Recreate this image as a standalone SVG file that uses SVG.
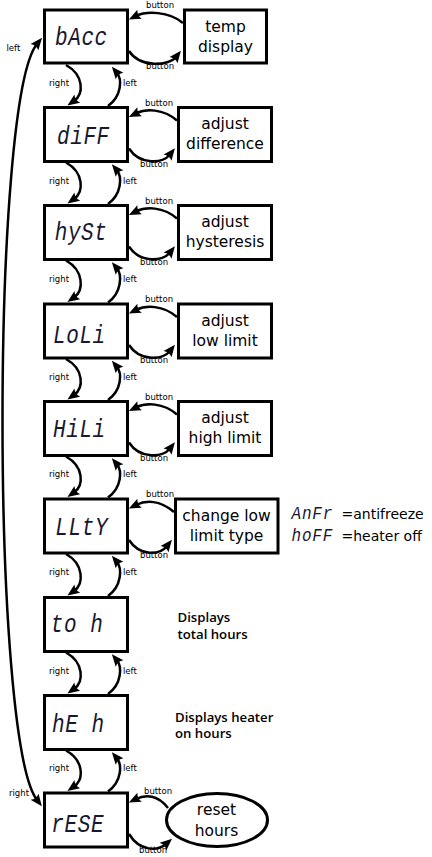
<svg xmlns="http://www.w3.org/2000/svg" width="432" height="857" viewBox="0 0 432 857">
<style>
.box{fill:#fff;stroke:#000;stroke-width:3}
.lbl{font-family:"DejaVu Sans","Liberation Sans",sans-serif;font-size:15.5px;fill:#000;text-anchor:middle}
.seg{font-family:"Liberation Mono","DejaVu Sans Mono",monospace;font-style:italic;font-size:21px;fill:#181830;letter-spacing:0.6px}
.seg2{font-family:"Liberation Mono","DejaVu Sans Mono",monospace;font-style:italic;font-size:16px;fill:#181830;letter-spacing:0.8px}
.sm{font-family:"DejaVu Sans","Liberation Sans",sans-serif;font-size:8.5px;fill:#000}
.note{font-family:"Open Sans","DejaVu Sans",sans-serif;font-size:13.2px;font-weight:600;fill:#000}
.leg{font-family:"DejaVu Sans","Liberation Sans",sans-serif;font-size:14px;fill:#000}
.c{fill:none;stroke:#000;stroke-width:2.5;marker-end:url(#ah)}
</style>
<defs>
<marker id="ah" viewBox="-5 -6 14 12" refX="0" refY="0" markerWidth="14" markerHeight="12" markerUnits="userSpaceOnUse" orient="auto-start-reverse">
<path d="M8,0 L-4,-5 Q-1,0 -4,5 Z" fill="#000"/>
</marker>
</defs>
<rect width="432" height="857" fill="#fff"/>

<g id="connectors">
<path class="c" style="marker-start:url(#ah)" d="M37,800 C-9,740 -9,100 37,44"/>
<path class="c" d="M183,23 C169,11 146,11 136,16"/>
<path class="c" d="M129,51 C140,68 169,66 176,57"/>
<path class="c" d="M177,120.5 C163,108.5 146,108.5 136,113.5"/>
<path class="c" d="M129,148.5 C140,165.5 163,163.5 170,154.5"/>
<path class="c" d="M177,218.5 C163,206.5 146,206.5 136,211.5"/>
<path class="c" d="M129,246.5 C140,263.5 163,261.5 170,252.5"/>
<path class="c" d="M177,317 C163,305 146,305 136,310"/>
<path class="c" d="M129,345 C140,362 163,360 170,351"/>
<path class="c" d="M177,414.5 C163,402.5 146,402.5 136,407.5"/>
<path class="c" d="M129,442.5 C140,459.5 163,457.5 170,448.5"/>
<path class="c" d="M174,512 C160,500 146,500 136,505"/>
<path class="c" d="M129,540 C140,557 160,555 167,546"/>
<path class="c" d="M168,808 C158,795 146,794 136,799"/>
<path class="c" d="M129,834 C140,852 158,851 166,844"/>
<path class="c" d="M66,65 C84,75 84,94 74,101"/>
<path class="c" d="M108,106 C122,96 122,79 117,73"/>
<path class="c" d="M66,162.5 C84,172.5 84,192 74,199"/>
<path class="c" d="M108,204 C122,194 122,176.5 117,170.5"/>
<path class="c" d="M66,260.5 C84,270.5 84,290.5 74,297.5"/>
<path class="c" d="M108,302.5 C122,292.5 122,274.5 117,268.5"/>
<path class="c" d="M66,359 C84,369 84,388 74,395"/>
<path class="c" d="M108,400 C122,390 122,373 117,367"/>
<path class="c" d="M66,456.5 C84,466.5 84,485.5 74,492.5"/>
<path class="c" d="M108,497.5 C122,487.5 122,470.5 117,464.5"/>
<path class="c" d="M66,554 C84,564 84,584 74,591"/>
<path class="c" d="M108,596 C122,586 122,568 117,562"/>
<path class="c" d="M66,652.5 C84,662.5 84,682 74,689"/>
<path class="c" d="M108,694 C122,684 122,666.5 117,660.5"/>
<path class="c" d="M66,750.5 C84,760.5 84,779.5 74,786.5"/>
<path class="c" d="M108,791.5 C122,781.5 122,764.5 117,758.5"/>
<text class="sm" x="6.5" y="50.5">left</text>
<text class="sm" x="9" y="796">right</text>
<text class="sm" x="146" y="8">button</text>
<text class="sm" x="146" y="69">button</text>
<text class="sm" x="145" y="105.5">button</text>
<text class="sm" x="140" y="166.5">button</text>
<text class="sm" x="145" y="203.5">button</text>
<text class="sm" x="140" y="264.5">button</text>
<text class="sm" x="145" y="302">button</text>
<text class="sm" x="140" y="363">button</text>
<text class="sm" x="145" y="399.5">button</text>
<text class="sm" x="140" y="460.5">button</text>
<text class="sm" x="146" y="497">button</text>
<text class="sm" x="140" y="558">button</text>
<text class="sm" x="144" y="793.5">button</text>
<text class="sm" x="139" y="852.5">button</text>
<text class="sm" x="49" y="85.5">right</text><text class="sm" x="123" y="85.5">left</text>
<text class="sm" x="49" y="183.5">right</text><text class="sm" x="123" y="183.5">left</text>
<text class="sm" x="49" y="281.5">right</text><text class="sm" x="123" y="281.5">left</text>
<text class="sm" x="49" y="379.5">right</text><text class="sm" x="123" y="379.5">left</text>
<text class="sm" x="49" y="477">right</text><text class="sm" x="123" y="477">left</text>
<text class="sm" x="49" y="575">right</text><text class="sm" x="123" y="575">left</text>
<text class="sm" x="49" y="673.5">right</text><text class="sm" x="123" y="673.5">left</text>
<text class="sm" x="49" y="771">right</text><text class="sm" x="123" y="771">left</text>
</g>

<g id="bAcc"><rect class="box" x="44.5" y="10" width="83" height="53"/><text class="seg" transform="translate(55,45) scale(1,1.2)">bAcc</text></g>
<g id="temp-display"><rect class="box" x="184.5" y="10" width="82" height="53"/><text class="lbl" x="225.5" y="31.5">temp</text><text class="lbl" x="225.5" y="51.5">display</text></g>

<g id="diFF"><rect class="box" x="44.5" y="107.5" width="83" height="54"/><text class="seg" transform="translate(57,144.3) scale(1,1.2)">diFF</text></g>
<g id="adjust-difference"><rect class="box" x="178.5" y="107.5" width="93" height="54"/><text class="lbl" x="225" y="129">adjust</text><text class="lbl" x="225" y="149">difference</text></g>

<g id="hySt"><rect class="box" x="44.5" y="205.5" width="83" height="54"/><text class="seg" transform="translate(54.7,240) scale(1,1.2)">hySt</text></g>
<g id="adjust-hysteresis"><rect class="box" x="178.5" y="205.5" width="93" height="54"/><text class="lbl" x="225" y="227">adjust</text><text class="lbl" x="225" y="247">hysteresis</text></g>

<g id="LoLi"><rect class="box" x="44.5" y="304" width="83" height="54"/><text class="seg" transform="translate(53,343.3) scale(1,1.2)">LoLi</text></g>
<g id="adjust-low-limit"><rect class="box" x="178.5" y="304" width="93" height="54"/><text class="lbl" x="225" y="325.5">adjust</text><text class="lbl" x="225" y="345.5">low limit</text></g>

<g id="HiLi"><rect class="box" x="44.5" y="401.5" width="83" height="54"/><text class="seg" transform="translate(53,436.7) scale(1,1.2)">HiLi</text></g>
<g id="adjust-high-limit"><rect class="box" x="178.5" y="401.5" width="93" height="54"/><text class="lbl" x="225" y="423">adjust</text><text class="lbl" x="225" y="443">high limit</text></g>

<g id="LLtY"><rect class="box" x="44.5" y="499" width="83" height="54"/><text class="seg" transform="translate(55.3,535) scale(1,1.2)">LLtY</text></g>
<g id="change-low-limit-type"><rect class="box" x="175.5" y="499" width="102.5" height="54"/><text class="lbl" x="226.5" y="520.5">change low</text><text class="lbl" x="226.5" y="540.5">limit type</text></g>
<g id="legend"><text class="seg2" transform="translate(291.5,519.3) scale(1,1.1)">AnFr</text><text class="leg" x="341.5" y="519.3">=antifreeze</text><text class="seg2" transform="translate(291.5,540.7) scale(1,1.1)">hoFF</text><text class="leg" x="341.5" y="540.7">=heater off</text></g>

<g id="to-h"><rect class="box" x="44.5" y="597.5" width="83" height="54"/><text class="seg" transform="translate(50.7,631.7) scale(1,1.2)" xml:space="preserve">to h</text></g>
<g id="total-hours-note"><text class="note" x="177.5" y="621.5">Displays</text><text class="note" x="177.5" y="639">total hours</text></g>

<g id="hE-h"><rect class="box" x="44.5" y="695.5" width="83" height="54"/><text class="seg" transform="translate(52,731.7) scale(1,1.2)" xml:space="preserve">hE h</text></g>
<g id="heater-hours-note"><text class="note" x="175" y="721.5">Displays heater</text><text class="note" x="175" y="738">on hours</text></g>

<g id="rESE"><rect class="box" x="44.5" y="793" width="83" height="54"/><text class="seg" transform="translate(51.3,831.7) scale(1,1.2)">rESE</text></g>
<g id="reset-hours"><ellipse class="box" cx="217" cy="820" rx="50.5" ry="26.5"/><text class="lbl" x="216.5" y="815">reset</text><text class="lbl" x="216.5" y="836">hours</text></g>
</svg>
